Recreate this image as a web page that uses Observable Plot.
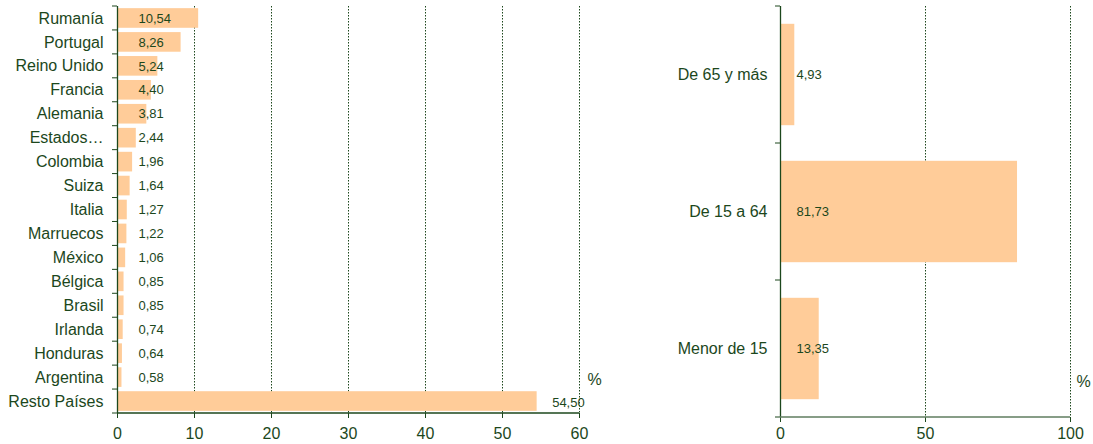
<!DOCTYPE html>
<html><head><meta charset="utf-8">
<script src="https://cdn.jsdelivr.net/npm/d3@7"></script>
<script src="https://cdn.jsdelivr.net/npm/@observablehq/plot@0.6"></script>
<style>
body{margin:0;background:#fff}
#wrap{position:relative;width:1093px;height:444px;overflow:hidden}
#left{position:absolute;left:0;top:0}
#right{position:absolute;left:640px;top:0}
</style>
</head><body>
<div id="wrap"><div id="left"></div><div id="right"></div></div>
<script>
const countries = ["Rumanía","Portugal","Reino Unido","Francia","Alemania","Estados Unidos","Colombia","Suiza","Italia","Marruecos","México","Bélgica","Brasil","Irlanda","Honduras","Argentina","Resto Países"];
const countryShares = [10.54,8.26,5.24,4.40,3.81,2.44,1.96,1.64,1.27,1.22,1.06,0.85,0.85,0.74,0.64,0.58,54.50];
const countryTicks = [0,10,20,30,40,50,60];
const countryGrid = [10,20,30,40,50,60];

const ageGroups = ["De 65 y más","De 15 a 64","Menor de 15"];
const ageShares = [4.93,81.73,13.35];
const ageTicks = [0,50,100];
const ageGrid = [50,100];

const unitLabel = "%";

const green = "#1c471c";
const barColor = "#ffcc99";
const font = "'Liberation Sans', Arial, sans-serif";
const fmt = v => d3.format(".2f")(v).replace(".", ",");
const shortName = d => d === "Estados Unidos" ? "Estados…" : d;

const countryData = countries.map((c, i) => ({cat: c, value: countryShares[i]}));
const ageData = ageGroups.map((c, i) => ({cat: c, value: ageShares[i]}));
const smallCountries = countryData.filter(d => d.value <= 20);
const bigCountries = countryData.filter(d => d.value > 20);

function decorate(plot, axisColor) {
  const svg = d3.select(plot);
  const x = plot.scale("x"), y = plot.scale("y");
  const [y0, y1] = y.range;
  const n = y.domain.length;
  const xa = x.apply(x.domain[0]), xb = x.apply(x.domain[1]);
  const g = svg.append("g").attr("fill", "none");
  for (let k = 0; k <= n; k++) {
    const yy = y0 + k * (y1 - y0) / n;
    g.append("line").attr("x1", xa - 5).attr("x2", xa).attr("y1", yy).attr("y2", yy).attr("stroke", green);
  }
  g.append("line").attr("x1", xa).attr("x2", xb).attr("y1", y1).attr("y2", y1)
    .attr("stroke", axisColor).attr("stroke-width", 1.3);
}

const left = Plot.plot({
  width: 620, height: 444,
  marginLeft: 117, marginRight: 41, marginTop: 6, marginBottom: 31,
  style: {fontFamily: font, fontSize: "16px", color: green, background: "white"},
  x: {domain: [0, 60], ticks: countryTicks, tickSize: 5, tickPadding: 9, label: null},
  y: {domain: countries, round: false, paddingInner: 0.18, paddingOuter: 0.09, tickSize: 0, tickPadding: 14, tickFormat: shortName, label: null},
  marks: [
    Plot.ruleX(countryGrid, {stroke: green, strokeDasharray: "1.5,1.5", strokeWidth: 1}),
    Plot.barX(countryData, {x: "value", y: "cat", fill: barColor}),
    Plot.ruleX([0], {stroke: green, strokeWidth: 1.3}),
    Plot.text(smallCountries, {x: 0, y: "cat", text: d => fmt(d.value), textAnchor: "start", dx: 21, fontSize: 13, fill: green}),
    Plot.text(bigCountries, {x: "value", y: "cat", text: d => fmt(d.value), textAnchor: "start", dx: 15, dy: 1, fontSize: 13, fill: green}),
    Plot.text([unitLabel], {frameAnchor: "bottom-right", text: d => d, dx: 15, dy: -29, textAnchor: "middle", fontSize: 16, fill: green})
  ]
});
document.getElementById("left").appendChild(left);
decorate(left, green);

const right = Plot.plot({
  width: 453, height: 444,
  marginLeft: 140, marginRight: 23, marginTop: 6, marginBottom: 27,
  style: {fontFamily: font, fontSize: "16px", color: green, background: "white"},
  x: {domain: [0, 100], ticks: ageTicks, tickSize: 5, tickPadding: 5, label: null},
  y: {domain: ageGroups, round: false, paddingInner: 0.26, paddingOuter: 0.13, tickSize: 0, tickPadding: 13, label: null},
  marks: [
    Plot.ruleX(ageGrid, {stroke: green, strokeDasharray: "1.5,1.5", strokeWidth: 1}),
    Plot.barX(ageData, {x: "value", y: "cat", fill: barColor}),
    Plot.ruleX([0], {stroke: green, strokeWidth: 1.3}),
    Plot.text(ageData, {x: 0, y: "cat", text: d => fmt(d.value), textAnchor: "start", dx: 16, fontSize: 13, fill: green}),
    Plot.text([unitLabel], {frameAnchor: "bottom-right", text: d => d, dx: 13, dy: -31, textAnchor: "middle", fontSize: 16, fill: green})
  ]
});
document.getElementById("right").appendChild(right);
decorate(right, "#5f7d5f");
</script>
</body></html>
